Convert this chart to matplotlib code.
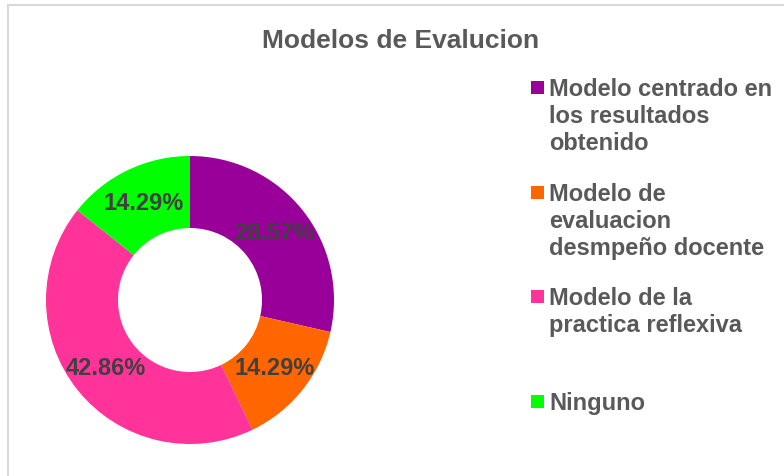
import textwrap
import matplotlib
matplotlib.use("Agg")
import matplotlib.pyplot as plt
from matplotlib.patches import Rectangle
from matplotlib.lines import Line2D

# ---- data ----
title = "Modelos de Evalucion"
categories = [
    "Modelo centrado en los resultados obtenido",
    "Modelo de evaluacion desmpeño docente",
    "Modelo de la practica reflexiva",
    "Ninguno",
]
values = [2, 1, 3, 1]
colors = ["#990099", "#FF6600", "#FF3399", "#00FF00"]

W, H = 784, 477
plt.rcParams['font.family'] = ['Liberation Sans', 'DejaVu Sans']
fig = plt.figure(figsize=(W / 100, H / 100), dpi=100)
fig.patch.set_facecolor("white")

# chart border (partially visible)
fig.add_artist(Line2D([8 / W, 8 / W], [0, 1 - 6 / H], transform=fig.transFigure,
                      color="#d9d9d9", lw=1.5))
fig.add_artist(Line2D([8 / W, 1], [1 - 6 / H, 1 - 6 / H], transform=fig.transFigure,
                      color="#d9d9d9", lw=1.5))

# donut
cx, cy, r = 190, 301, 144
ax = fig.add_axes([(cx - r) / W, (H - cy - r) / H, 2 * r / W, 2 * r / H])
wedges, texts, autotexts = ax.pie(
    values, colors=colors, startangle=90, counterclock=False,
    autopct="%.2f%%", pctdistance=0.75, radius=1.0,
    wedgeprops=dict(width=0.5, linewidth=0),
    textprops=dict(fontsize=17, fontweight="bold", color="#404040"),
)
ax.set_xlim(-1, 1)
ax.set_ylim(-1, 1)
ax.set_aspect("equal")
ax.axis("off")

# title
fig.text(401 / W, 1 - 41 / H, title, ha="center", va="center",
         fontsize=19, fontweight="bold", color="#595959")

# legend (manual, first-line aligned markers)
first_baseline = 96
item_step = 104.7
line_step = 27
for i, (cat, col) in enumerate(zip(categories, colors)):
    base = first_baseline + i * item_step
    fig.add_artist(Rectangle((531 / W, 1 - (base - 1) / H), 13 / W, 13 / H,
                             transform=fig.transFigure, facecolor=col,
                             edgecolor="none"))
    for j, line in enumerate(textwrap.wrap(cat, 18)):
        fig.text(549 / W, 1 - (base + j * line_step) / H, line, ha="left",
                 va="baseline", fontsize=17, fontweight="bold", color="#595959")

fig.savefig("out.png", dpi=100)
